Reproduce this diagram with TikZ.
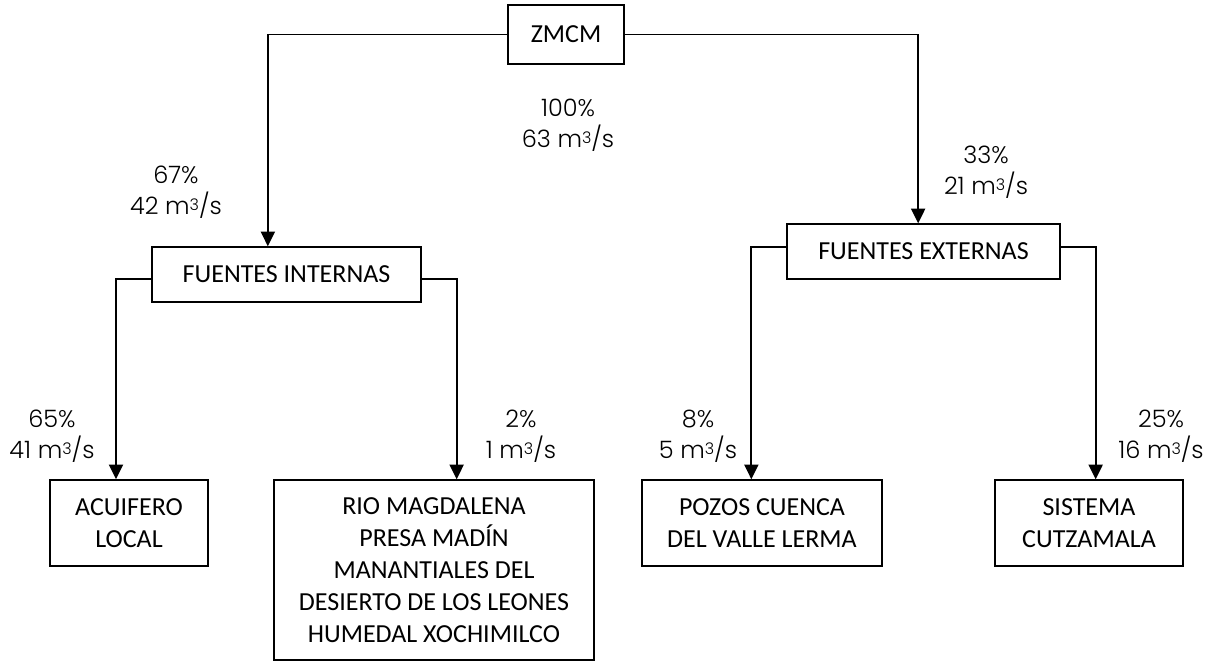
\documentclass[tikz,border=0pt]{standalone}
\usepackage{fontspec}
\setmainfont{Carlito}
\newfontfamily\gothic{Poppins Light}
\usetikzlibrary{arrows.meta}
\tikzset{
  caja/.style={draw, line width=1.1pt, align=center, inner sep=0pt,
    font=\fontsize{19.5}{24}\selectfont},
  flujo/.style={align=center, inner sep=0pt, font=\gothic\fontsize{18}{23}\selectfont},
  rama/.style={line width=1.4pt, -{Triangle[width=10.5pt,length=11pt]}},
}

\begin{document}
\begin{tikzpicture}[x=0.75pt, y=-0.75pt]

  \newcommand\MC{m\raisebox{0.3ex}{\fontsize{12}{12}\selectfont 3}/s}

  \useasboundingbox (0,0) rectangle (1205,662);

  %% boxes
  \node[caja, minimum width=116*0.75pt, minimum height=59*0.75pt] (zmcm) at (566,34.5) {ZMCM};
  \node[caja, minimum width=269*0.75pt, minimum height=55*0.75pt] (fi) at (286.5,274.5) {FUENTES INTERNAS};
  \node[caja, minimum width=273*0.75pt, minimum height=55*0.75pt] (fe) at (923.5,251.5) {FUENTES EXTERNAS};

  \node[caja, minimum width=158*0.75pt, minimum height=86*0.75pt] (acuifero) at (129,523) {ACUIFERO\\LOCAL};
  \node[caja, minimum width=320*0.75pt, minimum height=180*0.75pt] (rio) at (434,570)
    {RIO MAGDALENA\\PRESA MADÍN\\MANANTIALES DEL\\DESIERTO DE LOS LEONES\\HUMEDAL XOCHIMILCO};
  \node[caja, minimum width=240*0.75pt, minimum height=86*0.75pt] (pozos) at (762,523) {POZOS CUENCA\\DEL VALLE LERMA};
  \node[caja, minimum width=188*0.75pt, minimum height=86*0.75pt] (cutzamala) at (1089,523) {SISTEMA\\CUTZAMALA};

  %% connectors
  \draw[rama] (zmcm.west) -| ([xshift=-14pt]fi.north); %% zmcm - internas
  \draw[rama] (zmcm.east) -| ([xshift=-4pt]fe.north); %% zmcm - externas

  \draw[rama] ([yshift=-3.4pt]fi.west) -| ([xshift=-9.75pt]acuifero.north); %% internas - acuifero
  \draw[rama] ([yshift=-3.4pt]fi.east) -| ([xshift=17pt]rio.north); %% internas - rio

  \draw[rama] ([yshift=3.4pt]fe.west) -| ([xshift=-8pt]pozos.north); %% externas - pozos
  \draw[rama] ([yshift=3.4pt]fe.east) -| ([xshift=5pt]cutzamala.north); %% externas - cutzamala

  %% flows
  \node[flujo] (qzmcm) at (568,125) {100\%\\63 \MC};
  \node[flujo] (qfi) at (176,192) {67\%\\42 \MC};
  \node[flujo] (qfe) at (986,172) {33\%\\21 \MC};

  \node[flujo] (qacuifero) at (52,436) {65\%\\41 \MC};
  \node[flujo] (qrio) at (521,436) {2\%\\1 \MC};
  \node[flujo] (qpozos) at (698,436) {8\%\\5 \MC};
  \node[flujo] (qcutzamala) at (1161,436) {25\%\\16 \MC};

\end{tikzpicture}
\end{document}
